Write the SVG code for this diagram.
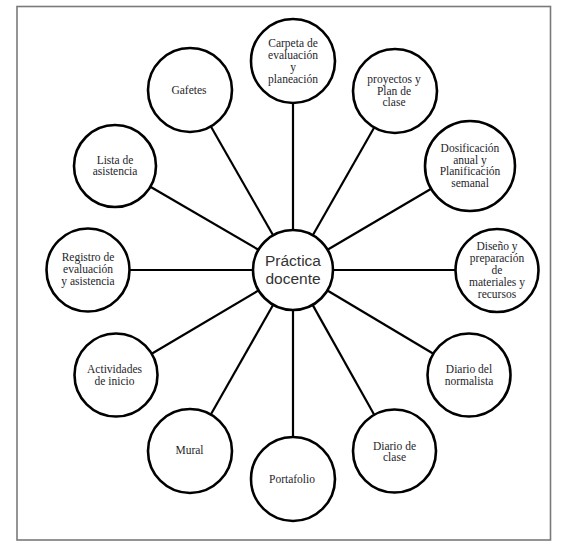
<svg xmlns="http://www.w3.org/2000/svg" width="567" height="547" viewBox="0 0 567 547">
<style>
.frame{fill:#fff;stroke:#7a7a7a;stroke-width:1.6}
.node{fill:#fff;stroke:#000;stroke-width:2.6}
.spoke{stroke:#000;stroke-width:2.2;fill:none}
.lbl{font-family:"Liberation Serif","Times New Roman",serif;font-size:11.5px;fill:#1e1e2a;text-anchor:middle}
.main{font-family:"Liberation Sans",Arial,sans-serif;font-size:15.5px;fill:#333;text-anchor:middle}
</style>
<rect width="567" height="547" fill="#fff"/>
<rect class="frame" x="17" y="6.5" width="533.5" height="533.5"/>
<g id="connectors">
<line class="spoke" x1="293" y1="230" x2="293" y2="103"/>
<line class="spoke" x1="312.8" y1="235.2" x2="374.2" y2="127.5"/>
<line class="spoke" x1="327.5" y1="249.7" x2="431.2" y2="188.8"/>
<line class="spoke" x1="333" y1="270" x2="455.5" y2="270"/>
<line class="spoke" x1="327.4" y1="290.5" x2="433.4" y2="353.8"/>
<line class="spoke" x1="312.6" y1="304.9" x2="374.2" y2="414.8"/>
<line class="spoke" x1="293" y1="310" x2="293" y2="437"/>
<line class="spoke" x1="273.2" y1="304.8" x2="210.8" y2="414.5"/>
<line class="spoke" x1="258.6" y1="290.4" x2="151.7" y2="353.8"/>
<line class="spoke" x1="253" y1="270" x2="130" y2="270"/>
<line class="spoke" x1="258.5" y1="249.8" x2="150.4" y2="186.7"/>
<line class="spoke" x1="273.1" y1="235.3" x2="210.9" y2="126.5"/>
</g>
<g id="center">
<circle class="node" cx="293" cy="270" r="40"/>
<text class="main" x="293" y="266">Práctica</text>
<text class="main" x="293" y="284">docente</text>
</g>
<g id="carpeta">
<circle class="node" cx="293" cy="61" r="42"/>
<text class="lbl" x="293" y="47">Carpeta de</text>
<text class="lbl" x="293" y="59">evaluación</text>
<text class="lbl" x="293" y="71">y</text>
<text class="lbl" x="293" y="83">planeación</text>
</g>
<g id="proyectos">
<circle class="node" cx="395" cy="91" r="42"/>
<text class="lbl" x="394" y="83">proyectos y</text>
<text class="lbl" x="394" y="94.5">Plan de</text>
<text class="lbl" x="394" y="106">clase</text>
</g>
<g id="dosificacion">
<circle class="node" cx="470" cy="166" r="45"/>
<text class="lbl" x="470" y="152">Dosificación</text>
<text class="lbl" x="470" y="163.5">anual y</text>
<text class="lbl" x="470" y="175">Planificación</text>
<text class="lbl" x="470" y="186.5">semanal</text>
</g>
<g id="diseno">
<circle class="node" cx="497" cy="270.5" r="41.5"/>
<text class="lbl" x="497" y="250">Diseño y</text>
<text class="lbl" x="497" y="262">preparación</text>
<text class="lbl" x="497" y="274">de</text>
<text class="lbl" x="497" y="286">materiales y</text>
<text class="lbl" x="497" y="298">recursos</text>
</g>
<g id="diario-normalista">
<circle class="node" cx="469" cy="375" r="41.5"/>
<text class="lbl" x="469" y="373">Diario del</text>
<text class="lbl" x="469" y="384.5">normalista</text>
</g>
<g id="diario-clase">
<circle class="node" cx="394.5" cy="451" r="41.5"/>
<text class="lbl" x="394.5" y="449.5">Diario de</text>
<text class="lbl" x="394.5" y="461">clase</text>
</g>
<g id="portafolio">
<circle class="node" cx="293" cy="479" r="42"/>
<text class="lbl" x="292" y="483">Portafolio</text>
</g>
<g id="mural">
<circle class="node" cx="190" cy="451" r="42"/>
<text class="lbl" x="189.5" y="453.5">Mural</text>
</g>
<g id="actividades">
<circle class="node" cx="116" cy="375" r="41.5"/>
<text class="lbl" x="114.5" y="373">Actividades</text>
<text class="lbl" x="114.5" y="384.5">de inicio</text>
</g>
<g id="registro">
<circle class="node" cx="88" cy="270" r="41.5"/>
<text class="lbl" x="88" y="261">Registro de</text>
<text class="lbl" x="88" y="273">evaluación</text>
<text class="lbl" x="88" y="285">y asistencia</text>
</g>
<g id="lista">
<circle class="node" cx="115" cy="166" r="41"/>
<text class="lbl" x="115" y="163.5">Lista de</text>
<text class="lbl" x="115" y="175">asistencia</text>
</g>
<g id="gafetes">
<circle class="node" cx="190" cy="90" r="42"/>
<text class="lbl" x="189" y="93.5">Gafetes</text>
</g>
</svg>
